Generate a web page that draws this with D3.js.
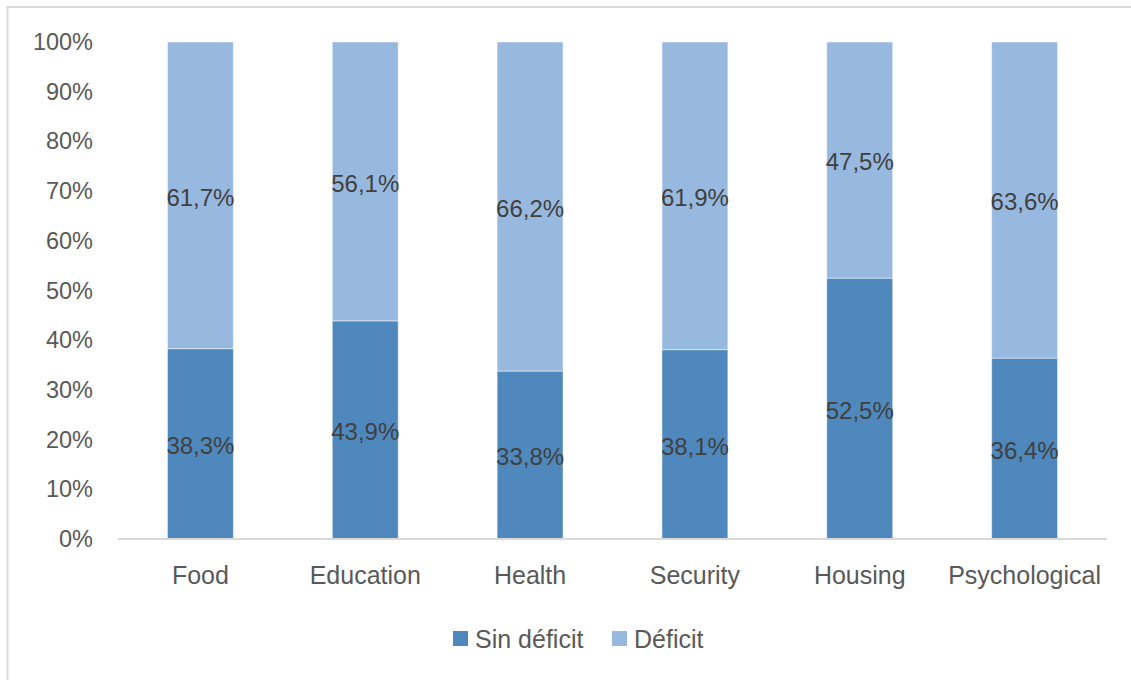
<!DOCTYPE html>
<html>
<head>
<meta charset="utf-8">
<script src="https://cdn.jsdelivr.net/npm/d3@7"></script>
<style>
  html, body { margin: 0; padding: 0; background: #fff; }
  svg { display: block; }
  text { font-family: "Liberation Sans", Arial, sans-serif; }
</style>
</head>
<body>
<svg id="chart" width="1131" height="680"></svg>
<script>
const categories = ["Food", "Education", "Health", "Security", "Housing", "Psychological"];
const sinDeficit = [38.3, 43.9, 33.8, 38.1, 52.5, 36.4];
const deficit = [61.7, 56.1, 66.2, 61.9, 47.5, 63.6];
const seriesNames = ["Sin déficit", "Déficit"];
const yTicks = [0, 10, 20, 30, 40, 50, 60, 70, 80, 90, 100];

const W = 1131, H = 680;
const margin = { left: 118, right: 24, top: 42, bottom: 141 };
const svg = d3.select("#chart");

// chart border (top & left visible, rest cropped)
svg.append("rect")
  .attr("x", 7.5).attr("y", 7)
  .attr("width", W + 20).attr("height", H + 20)
  .attr("fill", "#fff")
  .attr("stroke", "#d9d9d9").attr("stroke-width", 2);

const x = d3.scaleBand()
  .domain(categories)
  .range([margin.left, W - margin.right])
  .paddingInner(0.6).paddingOuter(0.3);

const y = d3.scaleLinear()
  .domain([0, 100])
  .range([H - margin.bottom, margin.top]);

const colors = ["#4f88bc", "#98b9df"];

const rows = categories.map((c, i) => ({ cat: c, v: [sinDeficit[i], deficit[i]] }));

const g = svg.append("g");
rows.forEach(r => {
  let base = 0;
  r.v.forEach((val, si) => {
    const y0 = base, y1 = base + val;
    g.append("rect")
      .attr("x", x(r.cat))
      .attr("y", y(y1))
      .attr("width", x.bandwidth())
      .attr("height", y(y0) - y(y1))
      .attr("fill", colors[si])
      .attr("stroke", "rgba(255,255,255,0.5)")
      .attr("stroke-width", 1);
    base = y1;
  });
});

// data labels
rows.forEach(r => {
  let base = 0;
  r.v.forEach((val) => {
    const mid = base + val / 2;
    svg.append("text")
      .attr("x", x(r.cat) + x.bandwidth() / 2)
      .attr("y", y(mid) + 2)
      .attr("dy", "0.35em")
      .attr("text-anchor", "middle")
      .attr("font-size", 24)
      .attr("fill", "#404040")
      .text(val.toFixed(1).replace(".", ",") + "%");
    base += val;
  });
});

// y axis labels
const yAxis = d3.axisLeft(y).tickValues(yTicks).tickSize(0).tickPadding(0)
  .tickFormat(d => d + "%");
const ya = svg.append("g").attr("transform", `translate(93,0)`).call(yAxis);
ya.select(".domain").remove();
ya.selectAll("text").attr("font-size", 23.5).attr("fill", "#595959")
  .style("font-family", "'Liberation Sans', Arial, sans-serif");

// x axis
const xAxis = d3.axisBottom(x).tickSize(0).tickPadding(27);
const xa = svg.append("g").attr("transform", `translate(0,${y(0)})`).call(xAxis);
xa.select(".domain").attr("stroke", "#d9d9d9").attr("stroke-width", 2)
  .attr("d", `M${margin.left},0H${W - margin.right}`);
xa.selectAll("text").attr("font-size", 25).attr("fill", "#595959")
  .style("font-family", "'Liberation Sans', Arial, sans-serif");

// legend
const legend = svg.append("g");
const legendItems = [
  { name: seriesNames[0], color: colors[0], x: 453 },
  { name: seriesNames[1], color: colors[1], x: 612 }
];
legendItems.forEach(it => {
  legend.append("rect")
    .attr("x", it.x).attr("y", 631)
    .attr("width", 15).attr("height", 15)
    .attr("fill", it.color);
  legend.append("text")
    .attr("x", it.x + 22).attr("y", 639)
    .attr("dy", "0.35em")
    .attr("font-size", 25)
    .attr("fill", "#595959")
    .text(it.name);
});
</script>
</body>
</html>
